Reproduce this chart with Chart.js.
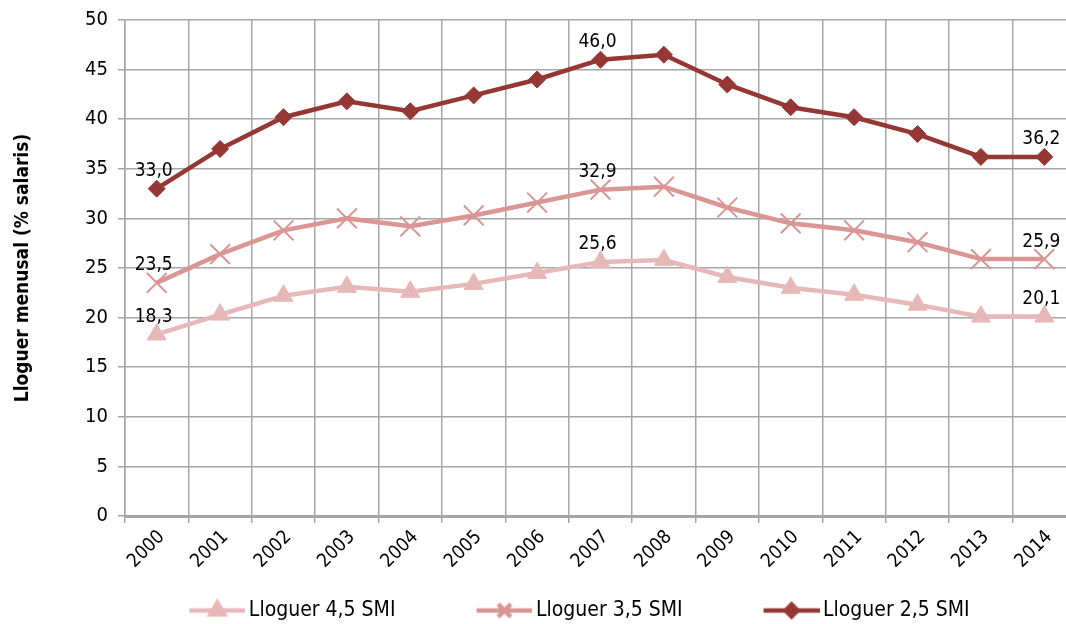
<!DOCTYPE html>
<html>
<head>
<meta charset="utf-8">
<script src="https://cdn.jsdelivr.net/npm/chart.js@4/dist/chart.umd.min.js"></script>
<style>
    html, body { margin: 0; padding: 0; background: #fff; }
    /* the original plot runs a little past the right edge of the picture */
    #wrap { width: 1066px; height: 624px; overflow: hidden; }
    #chart { display: block; margin-top: -2px; }
</style>
</head>
<body>
<div id="wrap"><canvas id="chart" width="1092" height="628"></canvas></div>
<script>
// Chart data
const years = ['2000', '2001', '2002', '2003', '2004', '2005', '2006', '2007',
    '2008', '2009', '2010', '2011', '2012', '2013', '2014'];
const lloguer45 = [18.3, 20.3, 22.2, 23.1, 22.6, 23.4, 24.5, 25.6, 25.8, 24.1, 23.0, 22.3, 21.3, 20.1, 20.1];
const lloguer35 = [23.5, 26.4, 28.8, 30.0, 29.2, 30.3, 31.6, 32.9, 33.2, 31.1, 29.5, 28.8, 27.6, 25.9, 25.9];
const lloguer25 = [33.0, 37.0, 40.2, 41.8, 40.8, 42.4, 44.0, 46.0, 46.5, 43.5, 41.2, 40.2, 38.5, 36.2, 36.2];
const labelledPoints = [0, 7, 14];

const FONT = '"Liberation Sans Narrow", "DejaVu Sans Condensed", sans-serif';
const GRID = '#a6a6a6';

// Legend sample: blank gap on the left (item spacing), then line + marker.
// It is a bit wider than pointStyleWidth so the line ends close to the text.
function legendSample(color, style, radius, lineW) {
    const c = document.createElement('canvas');
    c.width = 134;
    c.height = 26;
    const g = c.getContext('2d');
    g.strokeStyle = color;
    g.fillStyle = color;
    g.lineWidth = lineW;
    g.beginPath();
    g.moveTo(78, 13);
    g.lineTo(134, 13);
    g.stroke();
    Chart.helpers.drawPoint(g, { pointStyle: style, radius: radius, borderWidth: 2, rotation: 0 }, 106, 13);
    return c;
}

const valueLabels = {
    id: 'valueLabels',
    afterDatasetsDraw(chart) {
        const ctx = chart.ctx;
        ctx.save();
        ctx.font = '19px ' + FONT;
        ctx.fillStyle = '#000';
        ctx.textAlign = 'center';
        ctx.textBaseline = 'bottom';
        chart.data.datasets.forEach((ds, i) => {
            const meta = chart.getDatasetMeta(i);
            labelledPoints.forEach(idx => {
                const pt = meta.data[idx];
                const txt = ds.data[idx].toFixed(1).replace('.', ',');
                ctx.fillText(txt, pt.x - 3, pt.y - 8);
            });
        });
        ctx.restore();
    }
};

// Move the legend to where the original has it
const legendShift = {
    id: 'legendShift',
    afterLayout(chart) {
        const lg = chart.legend;
        const shift = 544 - (lg.left + lg.right) / 2;
        lg.left += shift;
        lg.right += shift;
        lg.top += 6;
        lg.bottom += 6;
    }
};

const ctx = document.getElementById('chart').getContext('2d');
new Chart(ctx, {
    type: 'line',
    data: {
        labels: years,
        datasets: [{
            label: 'Lloguer 4,5 SMI',
            data: lloguer45,
            borderColor: '#e6b9b8',
            backgroundColor: '#e6b9b8',
            borderWidth: 4.5,
            pointStyle: 'triangle',
            pointRadius: 11,
            pointBorderWidth: 1,
            legendStyle: legendSample('#e6b9b8', 'triangle', 8, 4.5)
        }, {
            label: 'Lloguer 3,5 SMI',
            data: lloguer35,
            borderColor: '#d99694',
            backgroundColor: '#d99694',
            borderWidth: 4.5,
            pointStyle: 'crossRot',
            pointRadius: 14,
            pointBorderWidth: 2,
            legendStyle: legendSample('#d99694', 'crossRot', 9, 4.5)
        }, {
            label: 'Lloguer 2,5 SMI',
            data: lloguer25,
            borderColor: '#953735',
            backgroundColor: '#953735',
            borderWidth: 4.5,
            pointStyle: 'rectRot',
            pointRadius: 8.5,
            pointBorderWidth: 1,
            legendStyle: legendSample('#953735', 'rectRot', 6, 4.5)
        }]
    },
    options: {
        responsive: false,
        animation: false,
        layout: { padding: { top: 11, right: 0, left: 4, bottom: 1 } },
        scales: {
            x: {
                offset: true,
                grid: {
                    offset: true,
                    color: GRID,
                    lineWidth: 1.5,
                    tickLength: 7
                },
                border: { color: GRID, width: 3 },
                ticks: {
                    color: '#000',
                    font: { family: FONT, size: 19 },
                    minRotation: 45,
                    maxRotation: 45,
                    padding: 3,
                    labelOffset: 5
                },
                afterFit(scale) {
                    scale.height = 68;
                }
            },
            y: {
                min: 0,
                max: 50,
                ticks: {
                    stepSize: 5,
                    color: '#000',
                    font: { family: FONT, size: 20 },
                    padding: 10
                },
                grid: {
                    color: GRID,
                    lineWidth: 1.5,
                    tickLength: 7
                },
                border: { color: GRID, width: 1.5 },
                title: {
                    display: true,
                    text: 'Lloguer menusal (% salaris)',
                    color: '#000',
                    font: { family: FONT, size: 19, weight: 'bold' },
                    padding: { top: 8, bottom: 10 }
                },
                afterFit(scale) { scale.width = 121; }
            }
        },
        plugins: {
            legend: {
                position: 'bottom',
                labels: {
                    usePointStyle: true,
                    pointStyleWidth: 120,
                    color: '#000',
                    font: { family: FONT, size: 21 },
                    padding: 10,
                    generateLabels(chart) {
                        return chart.data.datasets.map((ds, i) => ({
                            text: ds.label,
                            pointStyle: ds.legendStyle,
                            fillStyle: ds.backgroundColor,
                            strokeStyle: ds.borderColor,
                            lineWidth: 0,
                            fontColor: '#000',
                            hidden: false,
                            datasetIndex: i
                        }));
                    }
                }
            },
            tooltip: { enabled: false }
        }
    },
    plugins: [valueLabels, legendShift]
});
</script>
</body>
</html>
